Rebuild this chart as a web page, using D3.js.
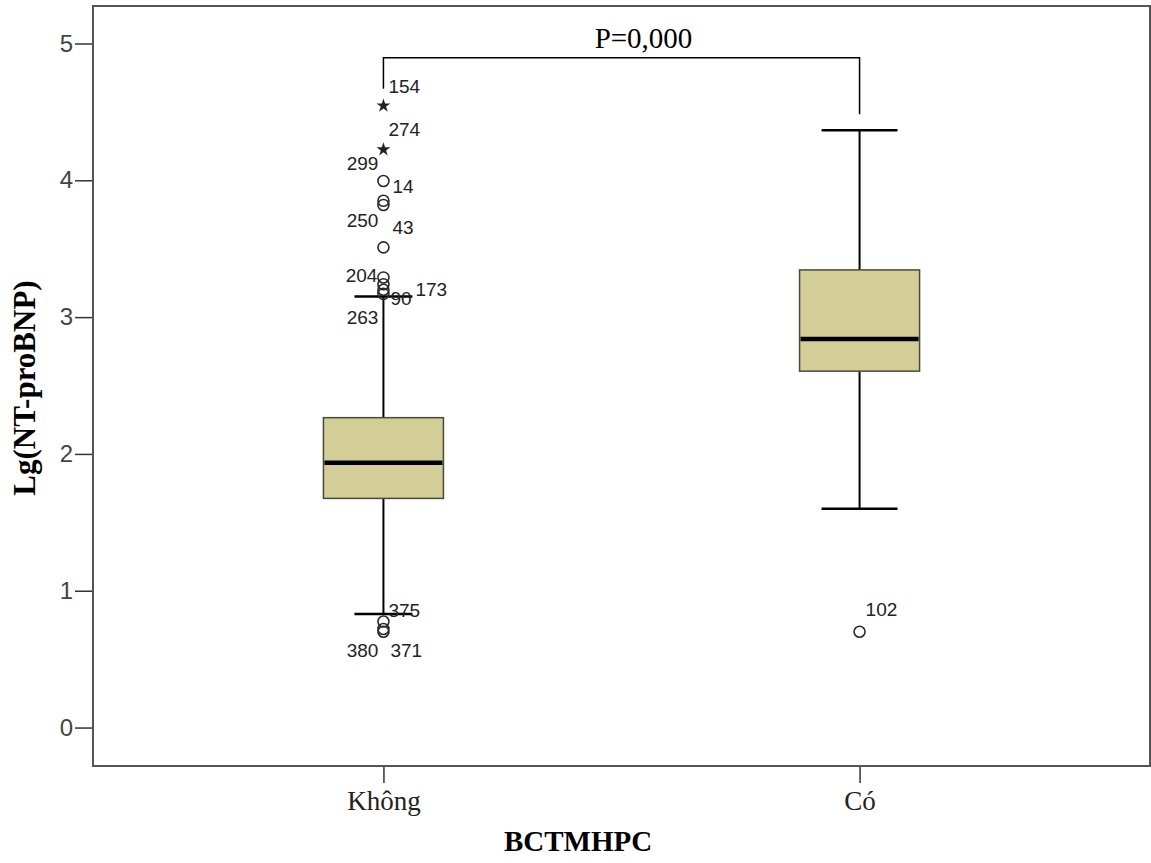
<!DOCTYPE html>
<html lang="vi">
<head>
<meta charset="UTF-8">
<title>Lg(NT-proBNP) theo BCTMHPC</title>
<script src="https://d3js.org/d3.v7.min.js"></script>
<style>
  html, body { margin: 0; padding: 0; background: #fff; }
</style>
</head>
<body>
<div id="chart"></div>
<script>
// groups on the x axis
const groups = ["Không", "Có"];

// five-number summary (whisker low, Q1, median, Q3, whisker high)
const whiskerLow = [0.83, 1.60];
const q1 = [1.675, 2.605];
const median = [1.935, 2.84];
const q3 = [2.265, 3.345];
const whiskerHigh = [3.15, 4.365];

// outliers / extremes, labelled with their case numbers
const outlierGroup = ["Không", "Không", "Không", "Không", "Không", "Không", "Không", "Không", "Không", "Không", "Không", "Không", "Không", "Có"];
const outlierValue = [4.545, 4.225, 3.995, 3.85, 3.82, 3.51, 3.29, 3.24, 3.20, 3.17, 0.775, 0.72, 0.70, 0.70];
const outlierCase = ["154", "274", "299", "14", "250", "43", "204", "173", "90", "263", "375", "380", "371", "102"];
const outlierKind = ["star", "star", "circle", "circle", "circle", "circle", "circle", "circle", "circle", "circle", "circle", "circle", "circle", "circle"];

const yTicks = [0, 1, 2, 3, 4, 5];
const pText = "P=0,000";

const width = 1151, height = 863;
const frame = { left: 93, right: 1150, top: 6, bottom: 766 };

const svg = d3.select("#chart").append("svg")
  .attr("width", width)
  .attr("height", height)
  .attr("viewBox", [0, 0, width, height]);

const x = d3.scalePoint()
  .domain(groups)
  .range([frame.left, frame.right])
  .padding(0.61);

const y = d3.scaleLinear()
  .domain([-0.281, 5.274])
  .range([frame.bottom, frame.top]);

// label placement for the case numbers (pixel nudges, anchor)
const labelNudge = {
  "154": [5, -19, "start"], "274": [5, -20, "start"], "299": [-5, -18, "end"],
  "14": [9, -14, "start"], "250": [-5, 15, "end"], "43": [9, -20, "start"],
  "204": [-6, -2, "end"], "173": [32, 5, "start"], "90": [7, 9, "start"],
  "263": [-5, 23, "end"], "375": [5, -11, "start"], "380": [-5, 21, "end"],
  "371": [7, 19, "start"], "102": [6, -22, "start"]
};

// axes
const yAxis = svg.append("g")
  .attr("transform", `translate(${frame.left},0)`)
  .call(d3.axisLeft(y).tickValues(yTicks).tickSize(18).tickPadding(2).tickFormat(d3.format("d")));
yAxis.select(".domain").remove();
yAxis.selectAll("line").attr("stroke", "#333").attr("stroke-width", 1.5);
yAxis.selectAll("text")
  .attr("fill", "#444")
  .style("font-family", "'Liberation Sans', Arial, sans-serif")
  .style("font-size", "24px");

const xAxis = svg.append("g")
  .attr("transform", `translate(0,${frame.bottom})`)
  .call(d3.axisBottom(x).tickSize(17).tickPadding(8));
xAxis.select(".domain").remove();
xAxis.selectAll("line").attr("stroke", "#333").attr("stroke-width", 1.5);
xAxis.selectAll("text")
  .attr("fill", "#222")
  .style("font-family", "'Liberation Serif', 'Times New Roman', serif")
  .style("font-size", "27px");

// frame
svg.append("rect")
  .attr("x", frame.left).attr("y", frame.top)
  .attr("width", frame.right - frame.left).attr("height", frame.bottom - frame.top)
  .attr("fill", "none").attr("stroke", "#555").attr("stroke-width", 2);

// boxes
const boxW = 120;
const capW = [58, 76];
const g = svg.append("g");

groups.forEach((grp, i) => {
  const cx = x(grp);
  g.append("line")
    .attr("x1", cx).attr("x2", cx)
    .attr("y1", y(whiskerHigh[i])).attr("y2", y(q3[i]))
    .attr("stroke", "#000").attr("stroke-width", 2);
  g.append("line")
    .attr("x1", cx).attr("x2", cx)
    .attr("y1", y(q1[i])).attr("y2", y(whiskerLow[i]))
    .attr("stroke", "#000").attr("stroke-width", 2);
  [whiskerHigh[i], whiskerLow[i]].forEach(v => {
    g.append("line")
      .attr("x1", cx - capW[i] / 2).attr("x2", cx + capW[i] / 2)
      .attr("y1", y(v)).attr("y2", y(v))
      .attr("stroke", "#000").attr("stroke-width", 2.5);
  });
  g.append("rect")
    .attr("x", cx - boxW / 2).attr("y", y(q3[i]))
    .attr("width", boxW).attr("height", y(q1[i]) - y(q3[i]))
    .attr("fill", "#d3ce97").attr("stroke", "#4a4a3a").attr("stroke-width", 1.5);
  g.append("line")
    .attr("x1", cx - boxW / 2 + 1).attr("x2", cx + boxW / 2 - 1)
    .attr("y1", y(median[i])).attr("y2", y(median[i]))
    .attr("stroke", "#000").attr("stroke-width", 4.5);
});

// outliers
const outliers = outlierValue.map((v, i) => ({
  group: outlierGroup[i], value: v, id: outlierCase[i], kind: outlierKind[i]
}));

const star = d3.symbol().type(d3.symbolStar).size(60);

const pts = svg.append("g");
pts.selectAll("circle")
  .data(outliers.filter(d => d.kind === "circle"))
  .join("circle")
  .attr("cx", d => x(d.group))
  .attr("cy", d => y(d.value))
  .attr("r", 5.5)
  .attr("fill", "none")
  .attr("stroke", "#2a2a2a")
  .attr("stroke-width", 1.6);

pts.selectAll("path")
  .data(outliers.filter(d => d.kind === "star"))
  .join("path")
  .attr("transform", d => `translate(${x(d.group)},${y(d.value)})`)
  .attr("d", star)
  .attr("fill", "#222");

svg.append("g")
  .selectAll("text")
  .data(outliers.filter(d => labelNudge[d.id]))
  .join("text")
  .attr("x", d => x(d.group) + labelNudge[d.id][0])
  .attr("y", d => y(d.value) + labelNudge[d.id][1])
  .attr("dy", "0.35em")
  .attr("text-anchor", d => labelNudge[d.id][2])
  .attr("fill", "#222")
  .style("font-family", "'Liberation Sans', Arial, sans-serif")
  .style("font-size", "19px")
  .text(d => d.id);

// significance bracket
const topOf = grp => {
  const i = groups.indexOf(grp);
  const vals = outliers.filter(d => d.group === grp).map(d => d.value).concat([whiskerHigh[i]]);
  return y(d3.max(vals));
};
const endL = topOf(groups[0]) - 17;
const endR = topOf(groups[1]) - 16;
const barY = Math.min(endL, endR) - 31;
svg.append("path")
  .attr("d", `M${x(groups[0])},${endL}V${barY}H${x(groups[1])}V${endR}`)
  .attr("fill", "none")
  .attr("stroke", "#000")
  .attr("stroke-width", 1.5);

svg.append("text")
  .attr("x", (x(groups[0]) + x(groups[1])) / 2 + 22)
  .attr("y", barY - 10)
  .attr("text-anchor", "middle")
  .attr("fill", "#000")
  .style("font-family", "'Liberation Serif', 'Times New Roman', serif")
  .style("font-size", "29px")
  .text(pText);

// axis titles
svg.append("text")
  .attr("x", 578)
  .attr("y", 851)
  .attr("text-anchor", "middle")
  .attr("fill", "#000")
  .style("font-family", "'Liberation Serif', 'Times New Roman', serif")
  .style("font-weight", "bold")
  .style("font-size", "29px")
  .text("BCTMHPC");

svg.append("text")
  .attr("transform", `translate(35,${(frame.top + frame.bottom) / 2 + 2}) rotate(-90)`)
  .attr("text-anchor", "middle")
  .attr("fill", "#000")
  .style("font-family", "'Liberation Serif', 'Times New Roman', serif")
  .style("font-weight", "bold")
  .style("font-size", "31px")
  .text("Lg(NT-proBNP)");
</script>
</body>
</html>
